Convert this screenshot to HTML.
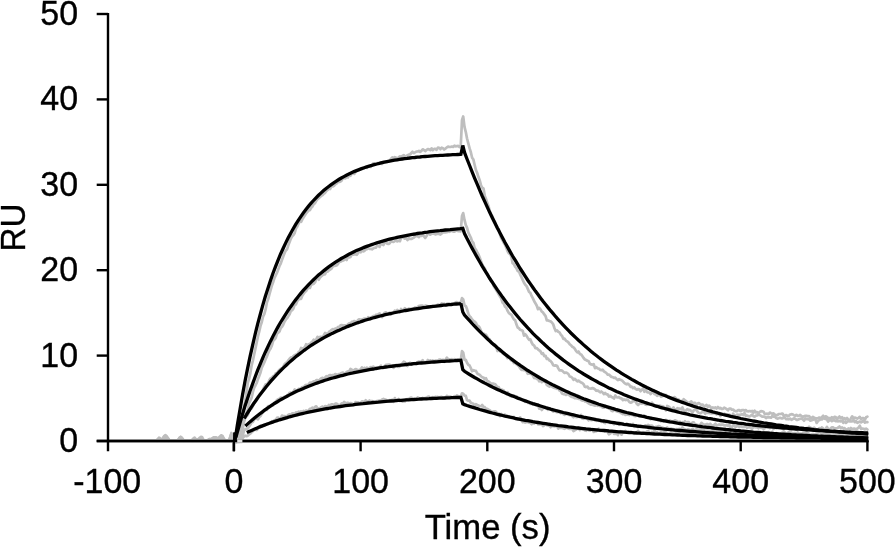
<!DOCTYPE html><html><head><meta charset="utf-8"><title>Sensorgram</title><style>html,body{margin:0;padding:0;background:#fff;overflow:hidden}svg{display:block}</style></head><body><svg width="895" height="547" viewBox="0 0 895 547">
<rect width="895" height="547" fill="#fff"/>
<g stroke="#000" stroke-width="2.4" fill="none">
<path d="M108,12.9 V451.3"/>
<path d="M96.7,441.0 H868.5"/>
<path d="M96.7,355.6 H108"/>
<path d="M96.7,270.2 H108"/>
<path d="M96.7,184.8 H108"/>
<path d="M96.7,99.4 H108"/>
<path d="M96.7,14.0 H108"/>
<path d="M233.9,441.0 V451.3"/>
<path d="M360.6,441.0 V451.3"/>
<path d="M487.3,441.0 V451.3"/>
<path d="M614.0,441.0 V451.3"/>
<path d="M740.7,441.0 V451.3"/>
<path d="M867.4,441.0 V451.3"/>
</g>
<g fill="none" stroke="#bebebe" stroke-width="2.7" stroke-linejoin="round" stroke-linecap="round">
<path d="M156.6,441.0 L157.9,440.1 L159.1,437.6 L160.4,438.8 L161.7,440.3 L162.9,438.0 L164.2,436.1 L165.5,435.1 L166.7,436.3 L168.0,438.2 L169.3,440.9 L170.6,440.9 L171.8,441.0 L173.1,441.0 L174.4,441.0 L175.6,441.0 L176.9,440.6 L178.2,440.0 L179.4,438.1 L180.7,437.0 L182.0,438.5 L183.2,439.6 L184.5,441.0 L185.8,441.0 L187.0,441.0 L188.3,441.0 L189.6,441.0 L190.8,441.0 L192.1,440.0 L193.4,438.5 L194.6,437.6 L195.9,439.6 L197.2,439.5 L198.4,439.1 L199.7,437.7 L201.0,437.2 L202.2,437.2 L203.5,440.2 L204.8,440.7 L206.0,440.4 L207.3,441.0 L208.6,439.3 L209.8,439.0 L211.1,438.7 L212.4,438.3 L213.6,437.3 L214.9,437.9 L216.2,437.7 L217.4,438.1 L218.7,437.7 L220.0,436.4 L221.2,435.3 L222.5,435.9 L223.8,438.6 L225.0,440.6 L226.3,441.0 L227.6,441.0 L228.8,441.0 L230.1,437.7 L231.4,433.0 L232.6,441.0 L233.9,441.6 L235.2,441.7 L236.4,442.0 L237.7,440.4 L239.0,433.9 L240.2,429.4 L241.5,422.6 L242.8,415.1 L244.0,406.8 L245.3,400.6 L246.6,391.3 L247.8,382.8 L249.1,378.9 L250.4,372.9 L251.6,365.5 L252.9,360.5 L254.2,354.3 L255.4,348.6 L256.7,342.5 L258.0,336.2 L259.2,331.7 L260.5,325.9 L261.8,322.0 L263.0,316.7 L264.3,314.2 L265.6,309.4 L266.8,302.9 L268.1,299.4 L269.4,294.4 L270.6,290.2 L271.9,285.5 L273.2,282.0 L274.4,278.1 L275.7,275.5 L277.0,272.7 L278.2,269.5 L279.5,266.0 L280.8,263.3 L282.0,259.8 L283.3,256.2 L284.6,252.9 L285.8,250.5 L287.1,249.2 L288.4,245.1 L289.6,242.0 L290.9,238.5 L292.2,236.3 L293.4,235.1 L294.7,233.0 L296.0,228.4 L297.2,226.8 L298.5,223.8 L299.8,221.3 L301.1,221.8 L302.3,219.3 L303.6,217.2 L304.9,215.2 L306.1,213.4 L307.4,211.9 L308.7,210.3 L309.9,210.2 L311.2,207.7 L312.5,206.5 L313.7,204.2 L315.0,203.2 L316.3,200.8 L317.5,199.1 L318.8,198.1 L320.1,196.9 L321.3,195.8 L322.6,195.1 L323.9,193.7 L325.1,192.8 L326.4,190.9 L327.7,190.0 L328.9,188.5 L330.2,189.0 L331.5,186.4 L332.7,186.5 L334.0,185.8 L335.3,184.4 L336.5,183.7 L337.8,182.1 L339.1,181.9 L340.3,181.6 L341.6,180.7 L342.9,178.0 L344.1,177.9 L345.4,178.4 L346.7,176.9 L347.9,177.4 L349.2,174.0 L350.5,175.7 L351.7,173.8 L353.0,172.8 L354.3,173.9 L355.5,172.1 L356.8,170.6 L358.1,170.3 L359.3,170.0 L360.6,168.9 L361.9,168.9 L363.1,168.4 L364.4,168.3 L365.7,167.1 L366.9,167.9 L368.2,166.2 L369.5,166.6 L370.7,166.8 L372.0,165.2 L373.3,163.3 L374.5,163.3 L375.8,164.2 L377.1,163.0 L378.3,163.4 L379.6,162.9 L380.9,162.3 L382.1,164.0 L383.4,161.8 L384.7,162.1 L385.9,161.6 L387.2,161.9 L388.5,161.7 L389.7,160.8 L391.0,158.8 L392.3,157.3 L393.5,158.2 L394.8,157.1 L396.1,157.8 L397.3,159.2 L398.6,157.3 L399.9,156.4 L401.1,156.7 L402.4,155.9 L403.7,155.2 L404.9,156.1 L406.2,156.5 L407.5,155.2 L408.7,154.7 L410.0,154.5 L411.3,153.0 L412.5,151.8 L413.8,153.2 L415.1,152.3 L416.3,151.6 L417.6,151.5 L418.9,150.9 L420.1,151.9 L421.4,150.9 L422.7,149.3 L423.9,149.9 L425.2,151.1 L426.5,150.0 L427.8,149.0 L429.0,149.4 L430.3,150.2 L431.6,148.3 L432.8,150.2 L434.1,148.9 L435.4,148.9 L436.6,149.8 L437.9,147.7 L439.2,147.9 L440.4,149.2 L441.7,147.7 L443.0,148.2 L444.2,149.5 L445.5,148.6 L446.8,147.4 L448.0,146.7 L449.3,146.9 L450.6,147.0 L451.8,146.5 L453.1,146.9 L454.4,145.7 L455.6,146.3 L456.9,146.2 L458.2,145.8 L459.4,147.1 L460.7,147.0 L462.0,120.1 L463.2,116.5 L464.5,126.9 L465.8,132.1 L467.0,138.3 L468.3,143.3 L469.6,148.4 L470.8,152.0 L472.1,157.7 L473.4,159.6 L474.6,164.8 L475.9,170.0 L477.2,173.0 L478.4,176.8 L479.7,180.3 L481.0,185.2 L482.2,187.8 L483.5,188.5 L484.8,196.0 L486.0,199.0 L487.3,203.1 L488.6,206.2 L489.8,211.3 L491.1,214.4 L492.4,216.3 L493.6,219.7 L494.9,221.6 L496.2,226.3 L497.4,228.7 L498.7,229.0 L500.0,234.6 L501.2,238.1 L502.5,240.2 L503.8,242.8 L505.0,244.7 L506.3,247.8 L507.6,251.3 L508.8,253.3 L510.1,253.5 L511.4,256.9 L512.6,263.2 L513.9,264.1 L515.2,266.9 L516.4,268.1 L517.7,271.0 L519.0,271.6 L520.2,274.6 L521.5,277.1 L522.8,280.1 L524.0,282.7 L525.3,284.8 L526.6,286.1 L527.8,288.9 L529.1,292.0 L530.4,292.9 L531.6,295.9 L532.9,298.4 L534.2,301.3 L535.4,303.3 L536.7,305.5 L538.0,309.2 L539.2,307.9 L540.5,309.4 L541.8,311.7 L543.0,312.4 L544.3,314.4 L545.6,316.1 L546.8,320.3 L548.1,320.4 L549.4,321.0 L550.6,321.4 L551.9,322.5 L553.2,324.3 L554.5,328.2 L555.7,331.1 L557.0,330.3 L558.3,331.8 L559.5,332.4 L560.8,334.7 L562.1,335.9 L563.3,338.8 L564.6,338.7 L565.9,340.6 L567.1,341.3 L568.4,342.4 L569.7,344.2 L570.9,345.2 L572.2,346.7 L573.5,347.4 L574.7,348.7 L576.0,350.9 L577.3,352.3 L578.5,351.5 L579.8,353.9 L581.1,354.4 L582.3,356.0 L583.6,358.0 L584.9,359.5 L586.1,360.0 L587.4,360.8 L588.7,361.3 L589.9,363.8 L591.2,364.4 L592.5,364.8 L593.7,364.1 L595.0,368.1 L596.3,367.1 L597.5,368.4 L598.8,368.5 L600.1,369.9 L601.3,370.1 L602.6,369.7 L603.9,371.3 L605.1,372.1 L606.4,373.0 L607.7,374.7 L608.9,374.5 L610.2,375.7 L611.5,377.0 L612.7,377.1 L614.0,377.9 L615.3,377.7 L616.5,378.9 L617.8,380.1 L619.1,379.1 L620.3,379.8 L621.6,380.2 L622.9,381.3 L624.1,382.7 L625.4,383.7 L626.7,384.3 L627.9,383.7 L629.2,384.8 L630.5,386.9 L631.7,386.5 L633.0,388.1 L634.3,387.4 L635.5,388.9 L636.8,389.7 L638.1,389.0 L639.3,389.4 L640.6,391.2 L641.9,389.7 L643.1,388.5 L644.4,391.8 L645.7,389.8 L646.9,391.9 L648.2,392.5 L649.5,392.6 L650.7,394.0 L652.0,392.1 L653.3,392.7 L654.5,394.2 L655.8,394.4 L657.1,395.8 L658.3,395.2 L659.6,394.2 L660.9,396.6 L662.1,396.2 L663.4,395.8 L664.7,395.1 L665.9,394.9 L667.2,396.7 L668.5,397.7 L669.7,397.1 L671.0,398.0 L672.3,398.4 L673.5,397.5 L674.8,397.1 L676.1,398.6 L677.4,399.5 L678.6,399.3 L679.9,401.7 L681.2,400.8 L682.4,401.8 L683.7,399.2 L685.0,400.4 L686.2,401.4 L687.5,402.1 L688.8,404.6 L690.0,402.4 L691.3,401.4 L692.6,403.5 L693.8,402.9 L695.1,402.9 L696.4,405.2 L697.6,403.6 L698.9,403.1 L700.2,404.2 L701.4,404.9 L702.7,404.5 L704.0,406.7 L705.2,405.8 L706.5,405.0 L707.8,407.0 L709.0,405.6 L710.3,406.8 L711.6,408.7 L712.8,407.4 L714.1,408.1 L715.4,407.3 L716.6,408.6 L717.9,407.0 L719.2,408.4 L720.4,407.9 L721.7,408.8 L723.0,408.9 L724.2,407.6 L725.5,408.4 L726.8,409.2 L728.0,410.3 L729.3,408.5 L730.6,408.6 L731.8,409.7 L733.1,409.6 L734.4,410.8 L735.6,411.1 L736.9,411.1 L738.2,410.2 L739.4,410.1 L740.7,411.2 L742.0,410.1 L743.2,410.0 L744.5,410.6 L745.8,410.1 L747.0,411.2 L748.3,411.4 L749.6,411.0 L750.8,411.4 L752.1,410.9 L753.4,412.7 L754.6,410.7 L755.9,412.4 L757.2,412.2 L758.4,413.3 L759.7,411.9 L761.0,411.2 L762.2,411.3 L763.5,411.7 L764.8,414.0 L766.0,413.9 L767.3,413.7 L768.6,414.2 L769.8,412.6 L771.1,413.2 L772.4,413.6 L773.6,413.3 L774.9,414.7 L776.2,415.0 L777.4,415.1 L778.7,414.0 L780.0,414.0 L781.2,413.9 L782.5,413.5 L783.8,415.7 L785.0,415.6 L786.3,415.0 L787.6,416.3 L788.8,415.9 L790.1,414.5 L791.4,414.2 L792.6,414.3 L793.9,415.3 L795.2,415.8 L796.4,414.8 L797.7,416.0 L799.0,415.7 L800.2,414.8 L801.5,416.2 L802.8,416.8 L804.0,416.4 L805.3,415.8 L806.6,415.9 L807.9,416.3 L809.1,416.0 L810.4,418.0 L811.7,417.8 L812.9,416.9 L814.2,417.7 L815.5,418.3 L816.7,418.4 L818.0,418.2 L819.3,417.5 L820.5,418.2 L821.8,417.2 L823.1,415.8 L824.3,417.2 L825.6,416.3 L826.9,417.0 L828.1,418.4 L829.4,418.0 L830.7,418.6 L831.9,417.2 L833.2,418.7 L834.5,416.8 L835.7,417.1 L837.0,419.5 L838.3,417.5 L839.5,416.5 L840.8,418.4 L842.1,417.2 L843.3,419.5 L844.6,418.2 L845.9,419.6 L847.1,418.0 L848.4,419.8 L849.7,420.9 L850.9,418.5 L852.2,416.3 L853.5,418.5 L854.7,417.6 L856.0,418.1 L857.3,418.6 L858.5,417.9 L859.8,416.9 L861.1,419.3 L862.3,418.2 L863.6,418.1 L864.9,419.7 L866.1,417.3 L867.4,416.6"/>
<path d="M156.6,441.0 L157.9,439.1 L159.1,438.4 L160.4,439.7 L161.7,439.8 L162.9,439.6 L164.2,438.3 L165.5,437.2 L166.7,437.9 L168.0,439.3 L169.3,441.0 L170.6,441.0 L171.8,441.0 L173.1,441.0 L174.4,441.0 L175.6,441.0 L176.9,441.0 L178.2,440.9 L179.4,438.5 L180.7,438.9 L182.0,439.3 L183.2,440.4 L184.5,440.6 L185.8,441.0 L187.0,441.0 L188.3,441.0 L189.6,441.0 L190.8,440.9 L192.1,440.8 L193.4,439.5 L194.6,439.2 L195.9,439.4 L197.2,440.3 L198.4,440.6 L199.7,439.5 L201.0,438.8 L202.2,438.5 L203.5,440.6 L204.8,441.0 L206.0,440.6 L207.3,441.0 L208.6,441.0 L209.8,440.7 L211.1,440.2 L212.4,438.7 L213.6,438.5 L214.9,437.3 L216.2,438.0 L217.4,440.0 L218.7,440.2 L220.0,437.3 L221.2,436.3 L222.5,437.7 L223.8,438.7 L225.0,441.0 L226.3,440.8 L227.6,440.7 L228.8,441.0 L230.1,439.4 L231.4,435.3 L232.6,441.0 L233.9,440.3 L235.2,442.0 L236.4,442.0 L237.7,441.4 L239.0,439.7 L240.2,437.3 L241.5,432.8 L242.8,428.7 L244.0,421.6 L245.3,417.2 L246.6,412.0 L247.8,409.5 L249.1,403.1 L250.4,400.6 L251.6,397.7 L252.9,391.9 L254.2,387.6 L255.4,385.5 L256.7,383.0 L258.0,378.9 L259.2,376.1 L260.5,372.5 L261.8,367.6 L263.0,365.2 L264.3,362.4 L265.6,359.3 L266.8,356.7 L268.1,353.1 L269.4,350.1 L270.6,348.4 L271.9,345.5 L273.2,340.8 L274.4,339.6 L275.7,337.9 L277.0,333.6 L278.2,332.6 L279.5,331.5 L280.8,327.9 L282.0,326.8 L283.3,324.5 L284.6,321.5 L285.8,319.7 L287.1,318.2 L288.4,316.1 L289.6,314.2 L290.9,310.7 L292.2,310.2 L293.4,308.5 L294.7,304.3 L296.0,304.4 L297.2,301.2 L298.5,299.4 L299.8,299.0 L301.1,298.8 L302.3,295.8 L303.6,293.8 L304.9,291.9 L306.1,291.2 L307.4,288.9 L308.7,287.1 L309.9,287.9 L311.2,284.7 L312.5,284.2 L313.7,283.7 L315.0,282.4 L316.3,279.1 L317.5,278.3 L318.8,279.7 L320.1,277.4 L321.3,276.3 L322.6,275.2 L323.9,274.4 L325.1,274.3 L326.4,271.3 L327.7,271.6 L328.9,270.3 L330.2,269.5 L331.5,268.7 L332.7,266.5 L334.0,265.7 L335.3,265.8 L336.5,265.4 L337.8,264.2 L339.1,262.1 L340.3,261.8 L341.6,261.0 L342.9,260.7 L344.1,260.0 L345.4,258.9 L346.7,260.0 L347.9,256.5 L349.2,257.5 L350.5,257.0 L351.7,254.6 L353.0,254.7 L354.3,254.4 L355.5,254.4 L356.8,254.8 L358.1,252.9 L359.3,251.2 L360.6,252.3 L361.9,250.1 L363.1,251.4 L364.4,251.0 L365.7,249.4 L366.9,249.1 L368.2,248.1 L369.5,248.8 L370.7,248.9 L372.0,249.3 L373.3,248.4 L374.5,247.8 L375.8,247.7 L377.1,245.8 L378.3,246.0 L379.6,246.9 L380.9,242.8 L382.1,244.6 L383.4,245.1 L384.7,242.7 L385.9,242.0 L387.2,243.6 L388.5,244.0 L389.7,243.4 L391.0,241.1 L392.3,241.7 L393.5,242.0 L394.8,241.1 L396.1,239.6 L397.3,241.4 L398.6,240.7 L399.9,241.2 L401.1,237.9 L402.4,237.3 L403.7,237.8 L404.9,238.7 L406.2,237.9 L407.5,240.1 L408.7,238.2 L410.0,239.0 L411.3,239.0 L412.5,238.3 L413.8,237.6 L415.1,236.5 L416.3,236.0 L417.6,236.1 L418.9,237.1 L420.1,235.7 L421.4,235.9 L422.7,234.7 L423.9,236.2 L425.2,238.0 L426.5,236.1 L427.8,233.3 L429.0,234.1 L430.3,234.7 L431.6,233.7 L432.8,233.7 L434.1,233.7 L435.4,234.4 L436.6,233.9 L437.9,233.6 L439.2,234.1 L440.4,234.6 L441.7,233.4 L443.0,232.3 L444.2,232.3 L445.5,232.3 L446.8,232.2 L448.0,230.2 L449.3,231.8 L450.6,231.3 L451.8,230.3 L453.1,231.7 L454.4,231.7 L455.6,231.0 L456.9,230.1 L458.2,231.1 L459.4,231.2 L460.7,231.4 L462.0,216.0 L463.2,213.1 L464.5,219.9 L465.8,225.1 L467.0,227.6 L468.3,232.4 L469.6,235.2 L470.8,237.5 L472.1,241.4 L473.4,242.9 L474.6,247.9 L475.9,249.7 L477.2,252.2 L478.4,254.3 L479.7,257.5 L481.0,261.1 L482.2,264.3 L483.5,266.9 L484.8,268.3 L486.0,272.1 L487.3,273.7 L488.6,276.5 L489.8,278.6 L491.1,281.4 L492.4,281.7 L493.6,286.1 L494.9,288.0 L496.2,290.1 L497.4,292.1 L498.7,294.3 L500.0,296.6 L501.2,298.3 L502.5,302.6 L503.8,303.8 L505.0,306.8 L506.3,307.8 L507.6,310.9 L508.8,312.9 L510.1,314.1 L511.4,314.7 L512.6,317.1 L513.9,319.4 L515.2,320.4 L516.4,324.3 L517.7,327.6 L519.0,328.3 L520.2,329.8 L521.5,330.2 L522.8,330.9 L524.0,335.6 L525.3,334.2 L526.6,335.9 L527.8,337.9 L529.1,339.8 L530.4,339.4 L531.6,342.5 L532.9,344.7 L534.2,345.6 L535.4,348.1 L536.7,348.0 L538.0,349.4 L539.2,350.3 L540.5,351.4 L541.8,353.9 L543.0,353.2 L544.3,356.1 L545.6,355.8 L546.8,358.9 L548.1,358.7 L549.4,360.6 L550.6,361.1 L551.9,362.6 L553.2,365.2 L554.5,365.6 L555.7,365.4 L557.0,365.7 L558.3,368.4 L559.5,370.4 L560.8,370.4 L562.1,370.6 L563.3,371.8 L564.6,373.0 L565.9,372.5 L567.1,373.0 L568.4,374.0 L569.7,376.5 L570.9,376.8 L572.2,377.8 L573.5,379.8 L574.7,378.8 L576.0,380.0 L577.3,381.4 L578.5,380.6 L579.8,381.7 L581.1,382.5 L582.3,383.0 L583.6,384.2 L584.9,386.8 L586.1,387.1 L587.4,386.6 L588.7,388.4 L589.9,388.5 L591.2,388.6 L592.5,388.1 L593.7,388.5 L595.0,389.3 L596.3,390.8 L597.5,390.5 L598.8,391.2 L600.1,392.3 L601.3,391.5 L602.6,392.5 L603.9,394.1 L605.1,393.0 L606.4,394.4 L607.7,394.3 L608.9,396.5 L610.2,395.9 L611.5,396.9 L612.7,397.4 L614.0,398.6 L615.3,395.5 L616.5,397.2 L617.8,397.5 L619.1,397.1 L620.3,398.3 L621.6,398.3 L622.9,400.2 L624.1,399.4 L625.4,400.1 L626.7,399.6 L627.9,400.0 L629.2,401.8 L630.5,402.7 L631.7,402.4 L633.0,401.0 L634.3,401.2 L635.5,401.4 L636.8,403.8 L638.1,405.1 L639.3,403.7 L640.6,403.3 L641.9,403.6 L643.1,403.0 L644.4,403.5 L645.7,404.7 L646.9,404.8 L648.2,404.1 L649.5,404.1 L650.7,404.4 L652.0,402.6 L653.3,404.7 L654.5,405.0 L655.8,406.2 L657.1,406.1 L658.3,405.5 L659.6,405.5 L660.9,406.3 L662.1,406.2 L663.4,406.6 L664.7,408.6 L665.9,410.4 L667.2,406.0 L668.5,406.5 L669.7,407.6 L671.0,409.5 L672.3,409.6 L673.5,407.4 L674.8,410.8 L676.1,409.4 L677.4,408.2 L678.6,408.8 L679.9,408.5 L681.2,409.4 L682.4,407.5 L683.7,410.4 L685.0,411.4 L686.2,410.3 L687.5,409.1 L688.8,410.4 L690.0,409.8 L691.3,411.2 L692.6,412.2 L693.8,410.3 L695.1,409.8 L696.4,409.9 L697.6,411.8 L698.9,413.0 L700.2,413.3 L701.4,412.7 L702.7,411.9 L704.0,412.0 L705.2,413.8 L706.5,412.8 L707.8,412.9 L709.0,412.9 L710.3,413.2 L711.6,413.5 L712.8,412.9 L714.1,413.3 L715.4,413.4 L716.6,414.3 L717.9,413.6 L719.2,414.0 L720.4,416.0 L721.7,414.1 L723.0,414.5 L724.2,413.6 L725.5,414.4 L726.8,414.6 L728.0,414.5 L729.3,414.7 L730.6,415.2 L731.8,416.6 L733.1,413.7 L734.4,416.2 L735.6,415.7 L736.9,414.7 L738.2,414.8 L739.4,414.8 L740.7,414.6 L742.0,414.2 L743.2,415.0 L744.5,412.9 L745.8,416.0 L747.0,415.6 L748.3,416.1 L749.6,416.4 L750.8,415.7 L752.1,414.6 L753.4,416.3 L754.6,416.7 L755.9,415.6 L757.2,415.5 L758.4,414.3 L759.7,415.0 L761.0,415.9 L762.2,416.7 L763.5,416.5 L764.8,416.9 L766.0,418.1 L767.3,417.2 L768.6,417.3 L769.8,417.4 L771.1,417.7 L772.4,415.9 L773.6,416.6 L774.9,416.5 L776.2,418.0 L777.4,418.7 L778.7,418.3 L780.0,417.8 L781.2,418.3 L782.5,418.4 L783.8,417.4 L785.0,417.9 L786.3,419.2 L787.6,419.0 L788.8,419.3 L790.1,418.6 L791.4,419.8 L792.6,419.2 L793.9,418.3 L795.2,418.8 L796.4,419.8 L797.7,419.8 L799.0,419.2 L800.2,418.8 L801.5,418.5 L802.8,419.4 L804.0,420.7 L805.3,418.5 L806.6,419.1 L807.9,419.2 L809.1,419.4 L810.4,420.7 L811.7,420.3 L812.9,419.8 L814.2,419.0 L815.5,419.8 L816.7,422.9 L818.0,420.9 L819.3,420.1 L820.5,419.1 L821.8,419.5 L823.1,418.0 L824.3,418.7 L825.6,418.9 L826.9,419.4 L828.1,421.6 L829.4,420.1 L830.7,420.1 L831.9,421.1 L833.2,420.3 L834.5,420.4 L835.7,421.2 L837.0,421.1 L838.3,421.3 L839.5,420.9 L840.8,421.4 L842.1,420.7 L843.3,422.8 L844.6,421.8 L845.9,422.9 L847.1,422.0 L848.4,421.0 L849.7,421.3 L850.9,421.5 L852.2,421.4 L853.5,420.0 L854.7,422.2 L856.0,420.9 L857.3,422.8 L858.5,422.2 L859.8,421.6 L861.1,422.4 L862.3,421.6 L863.6,421.0 L864.9,422.7 L866.1,422.0 L867.4,422.2"/>
<path d="M156.6,441.0 L157.9,439.7 L159.1,438.4 L160.4,438.8 L161.7,440.7 L162.9,438.7 L164.2,438.1 L165.5,436.3 L166.7,437.6 L168.0,439.2 L169.3,440.3 L170.6,440.8 L171.8,440.7 L173.1,440.6 L174.4,441.0 L175.6,441.0 L176.9,441.0 L178.2,440.2 L179.4,437.8 L180.7,437.0 L182.0,438.1 L183.2,440.0 L184.5,441.0 L185.8,441.0 L187.0,441.0 L188.3,441.0 L189.6,441.0 L190.8,441.0 L192.1,441.0 L193.4,440.6 L194.6,440.2 L195.9,440.7 L197.2,441.0 L198.4,440.2 L199.7,439.3 L201.0,437.0 L202.2,438.9 L203.5,440.5 L204.8,441.0 L206.0,441.0 L207.3,441.0 L208.6,440.1 L209.8,439.3 L211.1,440.3 L212.4,440.0 L213.6,440.1 L214.9,439.1 L216.2,438.9 L217.4,439.4 L218.7,439.2 L220.0,438.3 L221.2,436.4 L222.5,437.6 L223.8,439.2 L225.0,440.4 L226.3,441.0 L227.6,441.0 L228.8,441.0 L230.1,440.0 L231.4,437.6 L232.6,441.0 L233.9,440.4 L235.2,442.0 L236.4,442.0 L237.7,438.0 L239.0,433.9 L240.2,430.8 L241.5,429.3 L242.8,425.2 L244.0,420.7 L245.3,417.8 L246.6,416.2 L247.8,415.0 L249.1,411.4 L250.4,409.0 L251.6,408.5 L252.9,405.8 L254.2,403.1 L255.4,401.2 L256.7,398.7 L258.0,396.4 L259.2,394.7 L260.5,393.4 L261.8,392.8 L263.0,389.5 L264.3,386.8 L265.6,384.4 L266.8,384.3 L268.1,383.0 L269.4,380.1 L270.6,378.3 L271.9,377.7 L273.2,376.0 L274.4,375.8 L275.7,373.4 L277.0,373.1 L278.2,371.2 L279.5,369.8 L280.8,368.7 L282.0,368.9 L283.3,366.7 L284.6,364.2 L285.8,363.1 L287.1,362.2 L288.4,360.3 L289.6,358.7 L290.9,357.4 L292.2,357.7 L293.4,356.1 L294.7,355.2 L296.0,354.6 L297.2,354.2 L298.5,352.1 L299.8,351.5 L301.1,347.9 L302.3,348.4 L303.6,347.9 L304.9,347.2 L306.1,344.2 L307.4,345.5 L308.7,344.3 L309.9,343.9 L311.2,342.6 L312.5,341.5 L313.7,339.7 L315.0,340.9 L316.3,339.3 L317.5,336.8 L318.8,337.7 L320.1,336.9 L321.3,336.8 L322.6,337.8 L323.9,335.2 L325.1,333.0 L326.4,333.5 L327.7,334.3 L328.9,332.0 L330.2,331.2 L331.5,329.8 L332.7,329.1 L334.0,329.5 L335.3,328.5 L336.5,329.8 L337.8,327.1 L339.1,326.9 L340.3,325.6 L341.6,325.0 L342.9,325.7 L344.1,325.3 L345.4,325.4 L346.7,326.2 L347.9,324.2 L349.2,323.2 L350.5,323.7 L351.7,321.9 L353.0,321.7 L354.3,321.0 L355.5,321.7 L356.8,322.4 L358.1,319.9 L359.3,319.3 L360.6,319.5 L361.9,319.5 L363.1,319.1 L364.4,318.6 L365.7,318.6 L366.9,319.7 L368.2,317.1 L369.5,318.4 L370.7,317.4 L372.0,316.9 L373.3,316.0 L374.5,317.3 L375.8,314.8 L377.1,314.6 L378.3,314.2 L379.6,313.5 L380.9,315.0 L382.1,317.2 L383.4,314.3 L384.7,312.7 L385.9,312.3 L387.2,313.6 L388.5,313.2 L389.7,312.7 L391.0,314.3 L392.3,313.4 L393.5,312.9 L394.8,310.6 L396.1,312.0 L397.3,310.0 L398.6,310.8 L399.9,312.3 L401.1,308.9 L402.4,310.9 L403.7,309.7 L404.9,308.2 L406.2,309.8 L407.5,310.5 L408.7,308.5 L410.0,308.8 L411.3,309.8 L412.5,309.7 L413.8,308.9 L415.1,307.4 L416.3,308.0 L417.6,307.1 L418.9,305.9 L420.1,305.9 L421.4,305.5 L422.7,305.5 L423.9,307.9 L425.2,305.7 L426.5,305.9 L427.8,306.3 L429.0,307.0 L430.3,307.5 L431.6,307.1 L432.8,305.9 L434.1,306.5 L435.4,306.2 L436.6,305.9 L437.9,304.5 L439.2,305.0 L440.4,304.8 L441.7,303.4 L443.0,304.5 L444.2,303.7 L445.5,305.0 L446.8,303.9 L448.0,303.7 L449.3,303.6 L450.6,304.0 L451.8,304.5 L453.1,303.9 L454.4,303.8 L455.6,302.3 L456.9,302.1 L458.2,303.8 L459.4,302.4 L460.7,303.1 L462.0,298.1 L463.2,299.4 L464.5,305.3 L465.8,306.1 L467.0,309.1 L468.3,313.5 L469.6,316.3 L470.8,317.3 L472.1,319.6 L473.4,320.8 L474.6,321.7 L475.9,322.7 L477.2,325.8 L478.4,326.1 L479.7,327.7 L481.0,330.7 L482.2,333.7 L483.5,333.3 L484.8,334.7 L486.0,334.6 L487.3,336.7 L488.6,338.9 L489.8,339.5 L491.1,343.0 L492.4,343.6 L493.6,345.1 L494.9,344.6 L496.2,346.5 L497.4,351.0 L498.7,348.9 L500.0,351.4 L501.2,351.3 L502.5,353.3 L503.8,354.0 L505.0,354.7 L506.3,356.1 L507.6,358.2 L508.8,357.4 L510.1,359.0 L511.4,360.5 L512.6,361.0 L513.9,363.0 L515.2,362.1 L516.4,364.2 L517.7,365.2 L519.0,366.3 L520.2,368.4 L521.5,369.8 L522.8,369.6 L524.0,370.2 L525.3,370.1 L526.6,371.5 L527.8,373.8 L529.1,373.5 L530.4,373.8 L531.6,374.3 L532.9,375.7 L534.2,378.0 L535.4,376.9 L536.7,379.0 L538.0,378.8 L539.2,381.3 L540.5,380.3 L541.8,382.1 L543.0,381.3 L544.3,381.1 L545.6,382.2 L546.8,385.0 L548.1,385.9 L549.4,386.6 L550.6,385.9 L551.9,386.6 L553.2,387.4 L554.5,387.9 L555.7,388.3 L557.0,388.8 L558.3,388.5 L559.5,390.5 L560.8,391.1 L562.1,393.6 L563.3,394.1 L564.6,394.1 L565.9,395.0 L567.1,394.4 L568.4,394.0 L569.7,395.6 L570.9,396.5 L572.2,397.1 L573.5,397.1 L574.7,398.1 L576.0,397.9 L577.3,398.4 L578.5,398.8 L579.8,399.0 L581.1,400.0 L582.3,400.6 L583.6,399.6 L584.9,401.4 L586.1,401.4 L587.4,402.5 L588.7,403.5 L589.9,404.0 L591.2,404.7 L592.5,404.5 L593.7,405.3 L595.0,405.6 L596.3,404.5 L597.5,405.8 L598.8,405.2 L600.1,406.2 L601.3,406.1 L602.6,407.7 L603.9,407.7 L605.1,405.7 L606.4,407.2 L607.7,407.6 L608.9,408.7 L610.2,408.6 L611.5,410.7 L612.7,411.1 L614.0,410.2 L615.3,410.0 L616.5,411.3 L617.8,411.6 L619.1,412.1 L620.3,412.2 L621.6,413.4 L622.9,414.1 L624.1,413.2 L625.4,414.8 L626.7,414.6 L627.9,414.6 L629.2,415.1 L630.5,414.3 L631.7,414.9 L633.0,415.0 L634.3,416.0 L635.5,416.2 L636.8,415.3 L638.1,415.4 L639.3,416.4 L640.6,416.1 L641.9,416.3 L643.1,416.6 L644.4,415.6 L645.7,417.3 L646.9,417.1 L648.2,417.2 L649.5,418.0 L650.7,419.2 L652.0,417.9 L653.3,418.2 L654.5,418.6 L655.8,418.9 L657.1,419.1 L658.3,420.1 L659.6,419.4 L660.9,421.3 L662.1,420.2 L663.4,421.5 L664.7,420.8 L665.9,419.9 L667.2,420.7 L668.5,421.2 L669.7,420.5 L671.0,421.2 L672.3,421.6 L673.5,421.8 L674.8,420.3 L676.1,420.8 L677.4,421.2 L678.6,422.9 L679.9,421.8 L681.2,423.4 L682.4,422.2 L683.7,423.5 L685.0,421.1 L686.2,424.0 L687.5,422.1 L688.8,422.2 L690.0,424.6 L691.3,423.8 L692.6,422.3 L693.8,422.3 L695.1,424.9 L696.4,424.5 L697.6,425.1 L698.9,425.2 L700.2,425.0 L701.4,422.8 L702.7,423.9 L704.0,424.6 L705.2,424.9 L706.5,424.1 L707.8,424.0 L709.0,425.5 L710.3,423.8 L711.6,425.8 L712.8,425.5 L714.1,424.9 L715.4,423.7 L716.6,425.4 L717.9,425.2 L719.2,424.4 L720.4,424.9 L721.7,424.6 L723.0,424.7 L724.2,425.4 L725.5,425.3 L726.8,425.1 L728.0,425.9 L729.3,424.7 L730.6,427.7 L731.8,427.4 L733.1,425.3 L734.4,425.8 L735.6,427.0 L736.9,426.3 L738.2,425.6 L739.4,427.0 L740.7,426.1 L742.0,426.8 L743.2,427.0 L744.5,427.0 L745.8,426.0 L747.0,427.8 L748.3,427.5 L749.6,426.6 L750.8,428.1 L752.1,428.8 L753.4,427.1 L754.6,427.2 L755.9,427.4 L757.2,427.3 L758.4,428.3 L759.7,425.0 L761.0,427.9 L762.2,428.0 L763.5,428.9 L764.8,428.3 L766.0,426.4 L767.3,427.4 L768.6,427.1 L769.8,428.1 L771.1,426.2 L772.4,427.4 L773.6,428.9 L774.9,427.4 L776.2,428.1 L777.4,427.4 L778.7,427.7 L780.0,427.7 L781.2,427.8 L782.5,428.8 L783.8,429.6 L785.0,427.5 L786.3,428.1 L787.6,427.9 L788.8,428.5 L790.1,430.1 L791.4,429.7 L792.6,427.3 L793.9,428.7 L795.2,428.7 L796.4,429.7 L797.7,429.0 L799.0,428.8 L800.2,428.6 L801.5,428.4 L802.8,428.9 L804.0,429.0 L805.3,428.5 L806.6,428.1 L807.9,428.4 L809.1,426.8 L810.4,427.9 L811.7,428.1 L812.9,428.9 L814.2,427.6 L815.5,429.1 L816.7,430.0 L818.0,429.6 L819.3,428.1 L820.5,429.4 L821.8,427.5 L823.1,428.3 L824.3,429.8 L825.6,429.0 L826.9,427.0 L828.1,429.0 L829.4,429.8 L830.7,428.3 L831.9,427.3 L833.2,427.4 L834.5,428.6 L835.7,428.4 L837.0,428.3 L838.3,427.5 L839.5,426.5 L840.8,428.3 L842.1,427.4 L843.3,428.7 L844.6,428.1 L845.9,429.4 L847.1,429.5 L848.4,428.5 L849.7,429.4 L850.9,428.0 L852.2,429.0 L853.5,428.7 L854.7,428.7 L856.0,429.0 L857.3,428.6 L858.5,427.7 L859.8,425.7 L861.1,429.1 L862.3,428.5 L863.6,428.8 L864.9,429.5 L866.1,428.6 L867.4,429.5"/>
<path d="M156.6,441.0 L157.9,439.1 L159.1,438.9 L160.4,439.3 L161.7,439.9 L162.9,439.3 L164.2,436.7 L165.5,435.8 L166.7,437.1 L168.0,438.4 L169.3,441.0 L170.6,441.0 L171.8,441.0 L173.1,441.0 L174.4,441.0 L175.6,441.0 L176.9,440.9 L178.2,441.0 L179.4,440.2 L180.7,439.8 L182.0,439.3 L183.2,441.0 L184.5,440.8 L185.8,441.0 L187.0,441.0 L188.3,441.0 L189.6,441.0 L190.8,441.0 L192.1,441.0 L193.4,440.7 L194.6,439.0 L195.9,439.8 L197.2,440.9 L198.4,440.0 L199.7,439.8 L201.0,439.3 L202.2,440.1 L203.5,440.1 L204.8,440.3 L206.0,441.0 L207.3,440.9 L208.6,440.1 L209.8,439.2 L211.1,441.0 L212.4,439.9 L213.6,438.4 L214.9,438.2 L216.2,437.6 L217.4,438.7 L218.7,439.0 L220.0,438.6 L221.2,437.3 L222.5,438.3 L223.8,439.4 L225.0,440.8 L226.3,441.0 L227.6,441.0 L228.8,440.8 L230.1,439.2 L231.4,437.2 L232.6,441.0 L233.9,441.5 L235.2,442.0 L236.4,442.0 L237.7,442.0 L239.0,442.0 L240.2,440.1 L241.5,437.8 L242.8,435.5 L244.0,430.5 L245.3,429.3 L246.6,428.6 L247.8,428.6 L249.1,426.6 L250.4,424.5 L251.6,422.3 L252.9,421.9 L254.2,419.4 L255.4,418.8 L256.7,418.5 L258.0,419.3 L259.2,417.1 L260.5,416.0 L261.8,413.7 L263.0,411.9 L264.3,409.8 L265.6,409.8 L266.8,410.0 L268.1,406.1 L269.4,406.3 L270.6,406.1 L271.9,405.3 L273.2,405.4 L274.4,402.9 L275.7,401.9 L277.0,399.9 L278.2,399.3 L279.5,398.7 L280.8,397.5 L282.0,398.0 L283.3,397.7 L284.6,396.6 L285.8,396.8 L287.1,395.3 L288.4,394.6 L289.6,392.9 L290.9,392.7 L292.2,393.7 L293.4,391.7 L294.7,389.5 L296.0,391.4 L297.2,390.3 L298.5,388.9 L299.8,389.3 L301.1,388.2 L302.3,387.0 L303.6,387.5 L304.9,385.7 L306.1,384.8 L307.4,385.7 L308.7,384.2 L309.9,382.6 L311.2,383.0 L312.5,382.1 L313.7,381.3 L315.0,381.6 L316.3,380.1 L317.5,380.0 L318.8,380.9 L320.1,379.3 L321.3,378.3 L322.6,377.9 L323.9,378.7 L325.1,377.6 L326.4,376.2 L327.7,376.6 L328.9,375.6 L330.2,375.0 L331.5,375.7 L332.7,375.0 L334.0,375.4 L335.3,374.0 L336.5,374.5 L337.8,374.7 L339.1,374.0 L340.3,373.7 L341.6,373.0 L342.9,372.5 L344.1,373.7 L345.4,373.2 L346.7,372.0 L347.9,371.4 L349.2,371.4 L350.5,369.0 L351.7,369.6 L353.0,370.6 L354.3,369.9 L355.5,369.0 L356.8,369.6 L358.1,371.4 L359.3,369.9 L360.6,369.5 L361.9,367.4 L363.1,370.4 L364.4,367.8 L365.7,368.6 L366.9,367.7 L368.2,368.4 L369.5,368.0 L370.7,367.0 L372.0,367.5 L373.3,366.7 L374.5,367.4 L375.8,367.7 L377.1,367.5 L378.3,367.6 L379.6,367.1 L380.9,365.6 L382.1,367.5 L383.4,368.2 L384.7,366.8 L385.9,364.8 L387.2,364.9 L388.5,364.6 L389.7,364.5 L391.0,366.2 L392.3,365.7 L393.5,367.9 L394.8,366.4 L396.1,364.9 L397.3,366.4 L398.6,367.0 L399.9,366.3 L401.1,364.7 L402.4,363.4 L403.7,361.7 L404.9,362.3 L406.2,364.9 L407.5,366.0 L408.7,363.9 L410.0,362.6 L411.3,364.6 L412.5,363.9 L413.8,363.6 L415.1,363.0 L416.3,363.0 L417.6,362.2 L418.9,361.5 L420.1,362.1 L421.4,361.6 L422.7,360.2 L423.9,362.6 L425.2,363.0 L426.5,361.6 L427.8,360.0 L429.0,361.1 L430.3,360.4 L431.6,361.5 L432.8,360.5 L434.1,361.6 L435.4,360.6 L436.6,360.5 L437.9,360.5 L439.2,359.5 L440.4,359.5 L441.7,360.9 L443.0,359.8 L444.2,361.8 L445.5,359.7 L446.8,357.7 L448.0,359.2 L449.3,359.4 L450.6,359.8 L451.8,359.2 L453.1,360.1 L454.4,359.2 L455.6,359.8 L456.9,360.0 L458.2,359.5 L459.4,359.5 L460.7,361.0 L462.0,351.2 L463.2,352.6 L464.5,359.8 L465.8,359.9 L467.0,362.7 L468.3,364.8 L469.6,365.5 L470.8,368.0 L472.1,371.2 L473.4,370.2 L474.6,370.6 L475.9,370.9 L477.2,373.4 L478.4,374.3 L479.7,374.8 L481.0,376.2 L482.2,377.2 L483.5,377.6 L484.8,379.5 L486.0,378.3 L487.3,381.0 L488.6,381.4 L489.8,382.5 L491.1,383.7 L492.4,383.5 L493.6,383.7 L494.9,384.0 L496.2,385.5 L497.4,387.4 L498.7,387.2 L500.0,389.9 L501.2,389.7 L502.5,389.9 L503.8,390.5 L505.0,392.8 L506.3,394.1 L507.6,392.2 L508.8,394.2 L510.1,396.1 L511.4,396.6 L512.6,396.0 L513.9,395.3 L515.2,396.6 L516.4,396.3 L517.7,397.5 L519.0,398.0 L520.2,398.1 L521.5,399.7 L522.8,399.9 L524.0,400.9 L525.3,401.8 L526.6,401.2 L527.8,402.8 L529.1,402.7 L530.4,403.9 L531.6,403.9 L532.9,404.7 L534.2,403.8 L535.4,404.9 L536.7,405.5 L538.0,404.5 L539.2,408.7 L540.5,408.3 L541.8,410.0 L543.0,408.2 L544.3,407.7 L545.6,407.7 L546.8,408.4 L548.1,409.8 L549.4,408.1 L550.6,409.3 L551.9,410.3 L553.2,411.6 L554.5,410.8 L555.7,411.7 L557.0,412.1 L558.3,411.9 L559.5,412.1 L560.8,413.3 L562.1,412.0 L563.3,414.0 L564.6,414.8 L565.9,413.9 L567.1,414.1 L568.4,414.5 L569.7,415.2 L570.9,415.2 L572.2,416.0 L573.5,417.3 L574.7,415.7 L576.0,417.2 L577.3,417.0 L578.5,416.3 L579.8,417.0 L581.1,415.0 L582.3,418.5 L583.6,418.8 L584.9,418.3 L586.1,417.3 L587.4,418.8 L588.7,420.3 L589.9,418.5 L591.2,420.1 L592.5,420.0 L593.7,419.1 L595.0,420.5 L596.3,420.8 L597.5,420.1 L598.8,420.8 L600.1,420.6 L601.3,421.9 L602.6,421.5 L603.9,422.5 L605.1,423.2 L606.4,420.6 L607.7,421.3 L608.9,421.2 L610.2,423.0 L611.5,422.7 L612.7,422.9 L614.0,424.2 L615.3,422.8 L616.5,423.8 L617.8,423.6 L619.1,424.9 L620.3,423.1 L621.6,423.0 L622.9,423.5 L624.1,424.8 L625.4,424.9 L626.7,423.4 L627.9,424.6 L629.2,424.5 L630.5,424.7 L631.7,425.9 L633.0,423.9 L634.3,426.8 L635.5,425.5 L636.8,425.6 L638.1,427.1 L639.3,425.7 L640.6,425.4 L641.9,425.9 L643.1,426.8 L644.4,426.0 L645.7,425.3 L646.9,426.0 L648.2,424.9 L649.5,425.6 L650.7,425.9 L652.0,425.5 L653.3,427.3 L654.5,427.7 L655.8,426.9 L657.1,426.8 L658.3,426.0 L659.6,426.3 L660.9,427.3 L662.1,427.5 L663.4,428.1 L664.7,428.4 L665.9,428.6 L667.2,427.5 L668.5,428.6 L669.7,428.8 L671.0,428.5 L672.3,429.1 L673.5,429.0 L674.8,430.8 L676.1,429.0 L677.4,429.3 L678.6,429.0 L679.9,428.8 L681.2,430.8 L682.4,427.5 L683.7,428.9 L685.0,429.2 L686.2,431.1 L687.5,429.4 L688.8,429.3 L690.0,430.0 L691.3,429.7 L692.6,428.7 L693.8,430.0 L695.1,430.9 L696.4,429.1 L697.6,429.7 L698.9,430.3 L700.2,428.3 L701.4,429.8 L702.7,430.5 L704.0,430.3 L705.2,430.9 L706.5,430.5 L707.8,430.5 L709.0,431.3 L710.3,431.2 L711.6,430.7 L712.8,430.6 L714.1,430.4 L715.4,430.3 L716.6,430.7 L717.9,430.7 L719.2,431.5 L720.4,431.6 L721.7,430.5 L723.0,433.0 L724.2,431.5 L725.5,428.7 L726.8,432.7 L728.0,430.5 L729.3,433.0 L730.6,431.7 L731.8,430.3 L733.1,430.2 L734.4,432.4 L735.6,433.2 L736.9,433.5 L738.2,431.7 L739.4,432.4 L740.7,432.2 L742.0,432.0 L743.2,431.8 L744.5,431.7 L745.8,432.1 L747.0,433.8 L748.3,431.4 L749.6,434.7 L750.8,431.8 L752.1,432.9 L753.4,432.8 L754.6,433.1 L755.9,433.1 L757.2,432.8 L758.4,433.0 L759.7,433.8 L761.0,432.2 L762.2,433.2 L763.5,431.7 L764.8,432.8 L766.0,433.5 L767.3,432.6 L768.6,432.1 L769.8,433.6 L771.1,433.4 L772.4,431.8 L773.6,433.7 L774.9,433.9 L776.2,433.1 L777.4,434.2 L778.7,435.6 L780.0,435.1 L781.2,433.2 L782.5,432.6 L783.8,432.6 L785.0,432.8 L786.3,434.3 L787.6,432.9 L788.8,432.2 L790.1,433.7 L791.4,432.6 L792.6,433.5 L793.9,433.2 L795.2,433.0 L796.4,434.7 L797.7,432.4 L799.0,434.0 L800.2,433.7 L801.5,433.9 L802.8,433.2 L804.0,433.0 L805.3,433.4 L806.6,432.2 L807.9,433.0 L809.1,433.8 L810.4,436.2 L811.7,434.4 L812.9,434.0 L814.2,434.5 L815.5,434.5 L816.7,433.3 L818.0,432.6 L819.3,431.7 L820.5,432.2 L821.8,434.0 L823.1,433.5 L824.3,434.9 L825.6,433.3 L826.9,433.3 L828.1,434.2 L829.4,433.9 L830.7,434.0 L831.9,434.3 L833.2,432.7 L834.5,430.7 L835.7,432.4 L837.0,432.5 L838.3,433.4 L839.5,434.0 L840.8,431.8 L842.1,433.7 L843.3,433.4 L844.6,433.8 L845.9,433.2 L847.1,433.7 L848.4,433.2 L849.7,434.8 L850.9,434.1 L852.2,432.6 L853.5,434.5 L854.7,434.5 L856.0,432.7 L857.3,433.2 L858.5,432.7 L859.8,435.6 L861.1,434.0 L862.3,435.0 L863.6,435.3 L864.9,433.7 L866.1,432.7 L867.4,434.9"/>
<path d="M156.6,441.0 L157.9,440.0 L159.1,438.4 L160.4,440.2 L161.7,439.6 L162.9,439.7 L164.2,439.2 L165.5,438.8 L166.7,438.0 L168.0,438.9 L169.3,441.0 L170.6,441.0 L171.8,440.8 L173.1,441.0 L174.4,441.0 L175.6,440.8 L176.9,441.0 L178.2,440.2 L179.4,438.9 L180.7,437.8 L182.0,438.0 L183.2,440.3 L184.5,441.0 L185.8,441.0 L187.0,440.6 L188.3,441.0 L189.6,441.0 L190.8,441.0 L192.1,440.7 L193.4,440.2 L194.6,440.8 L195.9,440.2 L197.2,440.8 L198.4,440.3 L199.7,440.6 L201.0,439.3 L202.2,440.2 L203.5,441.0 L204.8,440.7 L206.0,441.0 L207.3,440.7 L208.6,440.4 L209.8,439.5 L211.1,439.5 L212.4,439.6 L213.6,439.3 L214.9,439.7 L216.2,439.9 L217.4,439.6 L218.7,440.0 L220.0,438.2 L221.2,437.2 L222.5,438.5 L223.8,440.1 L225.0,441.0 L226.3,441.0 L227.6,441.0 L228.8,441.0 L230.1,437.3 L231.4,433.8 L232.6,441.0 L233.9,439.7 L235.2,442.0 L236.4,442.0 L237.7,442.0 L239.0,442.0 L240.2,442.0 L241.5,442.0 L242.8,437.7 L244.0,436.5 L245.3,435.7 L246.6,436.2 L247.8,435.6 L249.1,434.5 L250.4,433.6 L251.6,432.4 L252.9,431.0 L254.2,430.3 L255.4,428.8 L256.7,430.1 L258.0,428.4 L259.2,427.5 L260.5,425.6 L261.8,426.3 L263.0,425.5 L264.3,425.8 L265.6,424.3 L266.8,423.6 L268.1,423.9 L269.4,423.3 L270.6,422.4 L271.9,421.2 L273.2,422.1 L274.4,420.0 L275.7,420.3 L277.0,417.9 L278.2,417.5 L279.5,418.7 L280.8,418.7 L282.0,415.6 L283.3,416.2 L284.6,416.1 L285.8,416.6 L287.1,416.1 L288.4,414.8 L289.6,414.4 L290.9,415.3 L292.2,413.3 L293.4,413.4 L294.7,414.2 L296.0,412.4 L297.2,412.7 L298.5,411.7 L299.8,412.4 L301.1,411.4 L302.3,412.7 L303.6,410.9 L304.9,412.0 L306.1,410.5 L307.4,412.3 L308.7,410.2 L309.9,408.9 L311.2,408.6 L312.5,407.6 L313.7,409.3 L315.0,407.0 L316.3,406.3 L317.5,408.5 L318.8,408.4 L320.1,407.9 L321.3,407.2 L322.6,406.6 L323.9,408.7 L325.1,406.2 L326.4,406.3 L327.7,406.8 L328.9,405.0 L330.2,405.6 L331.5,404.3 L332.7,404.4 L334.0,405.0 L335.3,403.7 L336.5,403.6 L337.8,404.6 L339.1,405.7 L340.3,404.8 L341.6,403.4 L342.9,403.8 L344.1,402.0 L345.4,402.8 L346.7,403.0 L347.9,402.7 L349.2,403.7 L350.5,403.1 L351.7,403.4 L353.0,404.9 L354.3,404.6 L355.5,402.1 L356.8,402.6 L358.1,402.3 L359.3,403.4 L360.6,402.8 L361.9,401.3 L363.1,401.6 L364.4,402.1 L365.7,400.3 L366.9,401.3 L368.2,401.7 L369.5,400.4 L370.7,402.7 L372.0,401.0 L373.3,402.1 L374.5,402.0 L375.8,401.8 L377.1,401.0 L378.3,400.8 L379.6,400.6 L380.9,400.6 L382.1,399.4 L383.4,398.9 L384.7,399.7 L385.9,399.7 L387.2,400.7 L388.5,401.6 L389.7,400.2 L391.0,400.4 L392.3,399.6 L393.5,401.8 L394.8,398.1 L396.1,400.8 L397.3,400.1 L398.6,399.0 L399.9,400.9 L401.1,400.4 L402.4,401.6 L403.7,401.2 L404.9,401.5 L406.2,399.6 L407.5,399.0 L408.7,399.4 L410.0,398.0 L411.3,397.5 L412.5,398.6 L413.8,398.9 L415.1,399.0 L416.3,399.1 L417.6,397.5 L418.9,398.1 L420.1,398.6 L421.4,398.6 L422.7,397.8 L423.9,398.5 L425.2,397.9 L426.5,398.0 L427.8,396.8 L429.0,396.6 L430.3,398.9 L431.6,398.1 L432.8,397.2 L434.1,398.0 L435.4,396.9 L436.6,397.1 L437.9,396.9 L439.2,397.4 L440.4,397.1 L441.7,396.8 L443.0,398.5 L444.2,398.3 L445.5,398.3 L446.8,395.8 L448.0,396.5 L449.3,396.6 L450.6,396.7 L451.8,397.3 L453.1,397.6 L454.4,396.2 L455.6,397.0 L456.9,395.4 L458.2,396.2 L459.4,396.5 L460.7,396.8 L462.0,393.3 L463.2,393.7 L464.5,395.6 L465.8,395.9 L467.0,400.1 L468.3,400.7 L469.6,400.7 L470.8,402.7 L472.1,403.3 L473.4,403.7 L474.6,406.0 L475.9,404.2 L477.2,404.9 L478.4,405.6 L479.7,406.0 L481.0,406.3 L482.2,405.0 L483.5,407.0 L484.8,407.2 L486.0,408.9 L487.3,408.9 L488.6,409.9 L489.8,410.3 L491.1,411.5 L492.4,412.0 L493.6,411.4 L494.9,411.3 L496.2,412.0 L497.4,413.5 L498.7,413.3 L500.0,416.2 L501.2,414.0 L502.5,414.8 L503.8,415.0 L505.0,414.6 L506.3,416.3 L507.6,415.8 L508.8,417.2 L510.1,416.8 L511.4,417.9 L512.6,417.7 L513.9,416.9 L515.2,418.9 L516.4,419.5 L517.7,419.6 L519.0,419.3 L520.2,417.3 L521.5,420.1 L522.8,422.2 L524.0,421.6 L525.3,422.6 L526.6,422.1 L527.8,421.7 L529.1,422.7 L530.4,422.9 L531.6,424.2 L532.9,422.9 L534.2,423.6 L535.4,422.4 L536.7,422.3 L538.0,424.3 L539.2,424.4 L540.5,424.3 L541.8,423.8 L543.0,426.1 L544.3,425.3 L545.6,423.6 L546.8,425.2 L548.1,425.5 L549.4,425.9 L550.6,427.2 L551.9,425.7 L553.2,426.1 L554.5,426.4 L555.7,426.1 L557.0,426.1 L558.3,428.7 L559.5,427.2 L560.8,428.0 L562.1,427.6 L563.3,428.4 L564.6,428.8 L565.9,427.4 L567.1,428.1 L568.4,428.6 L569.7,428.8 L570.9,428.6 L572.2,428.8 L573.5,431.0 L574.7,430.3 L576.0,429.6 L577.3,428.7 L578.5,428.1 L579.8,430.1 L581.1,428.1 L582.3,429.4 L583.6,429.4 L584.9,430.4 L586.1,430.8 L587.4,429.1 L588.7,430.4 L589.9,430.6 L591.2,429.6 L592.5,429.0 L593.7,431.9 L595.0,431.3 L596.3,431.2 L597.5,429.6 L598.8,428.7 L600.1,430.9 L601.3,431.0 L602.6,430.6 L603.9,430.3 L605.1,431.7 L606.4,430.9 L607.7,432.2 L608.9,434.3 L610.2,433.6 L611.5,432.0 L612.7,431.2 L614.0,433.8 L615.3,434.0 L616.5,432.5 L617.8,435.2 L619.1,432.2 L620.3,431.2 L621.6,434.7 L622.9,432.0 L624.1,432.4 L625.4,431.0 L626.7,431.8 L627.9,432.5 L629.2,432.3 L630.5,431.6 L631.7,432.1 L633.0,432.4 L634.3,433.8 L635.5,432.3 L636.8,432.5 L638.1,430.9 L639.3,432.3 L640.6,432.6 L641.9,433.2 L643.1,432.1 L644.4,432.8 L645.7,433.3 L646.9,431.4 L648.2,430.9 L649.5,432.8 L650.7,433.7 L652.0,432.0 L653.3,433.5 L654.5,430.5 L655.8,432.6 L657.1,432.1 L658.3,434.0 L659.6,433.3 L660.9,432.2 L662.1,432.6 L663.4,433.6 L664.7,431.2 L665.9,432.2 L667.2,433.4 L668.5,434.0 L669.7,433.8 L671.0,432.4 L672.3,434.0 L673.5,433.7 L674.8,434.4 L676.1,432.7 L677.4,433.7 L678.6,433.0 L679.9,433.1 L681.2,434.2 L682.4,433.3 L683.7,432.9 L685.0,434.8 L686.2,433.5 L687.5,430.7 L688.8,433.6 L690.0,433.4 L691.3,435.2 L692.6,433.9 L693.8,434.6 L695.1,433.6 L696.4,434.1 L697.6,435.3 L698.9,433.5 L700.2,434.3 L701.4,435.2 L702.7,434.5 L704.0,435.3 L705.2,434.2 L706.5,434.4 L707.8,434.8 L709.0,433.9 L710.3,435.5 L711.6,433.8 L712.8,436.2 L714.1,433.4 L715.4,434.2 L716.6,434.8 L717.9,435.3 L719.2,434.3 L720.4,434.7 L721.7,434.9 L723.0,433.8 L724.2,434.9 L725.5,435.0 L726.8,434.4 L728.0,433.7 L729.3,434.7 L730.6,434.6 L731.8,434.7 L733.1,434.1 L734.4,433.4 L735.6,435.4 L736.9,435.1 L738.2,435.0 L739.4,434.4 L740.7,433.5 L742.0,434.7 L743.2,434.7 L744.5,433.9 L745.8,435.9 L747.0,435.9 L748.3,435.6 L749.6,435.1 L750.8,434.8 L752.1,435.5 L753.4,433.5 L754.6,435.4 L755.9,435.3 L757.2,434.1 L758.4,434.2 L759.7,434.9 L761.0,434.7 L762.2,434.3 L763.5,435.0 L764.8,434.5 L766.0,435.8 L767.3,435.2 L768.6,436.7 L769.8,436.3 L771.1,436.4 L772.4,434.3 L773.6,435.4 L774.9,435.0 L776.2,436.0 L777.4,435.5 L778.7,435.5 L780.0,436.0 L781.2,434.6 L782.5,436.6 L783.8,434.9 L785.0,432.7 L786.3,435.5 L787.6,435.3 L788.8,436.7 L790.1,435.6 L791.4,436.9 L792.6,435.0 L793.9,435.7 L795.2,437.0 L796.4,436.8 L797.7,437.0 L799.0,435.9 L800.2,434.6 L801.5,435.5 L802.8,436.4 L804.0,436.3 L805.3,435.4 L806.6,437.5 L807.9,435.2 L809.1,434.9 L810.4,437.5 L811.7,434.7 L812.9,436.7 L814.2,435.8 L815.5,434.3 L816.7,436.6 L818.0,437.3 L819.3,436.7 L820.5,436.6 L821.8,435.7 L823.1,435.9 L824.3,435.9 L825.6,435.9 L826.9,435.6 L828.1,436.2 L829.4,435.2 L830.7,435.3 L831.9,436.2 L833.2,433.8 L834.5,436.2 L835.7,434.8 L837.0,435.9 L838.3,435.1 L839.5,434.8 L840.8,434.4 L842.1,433.8 L843.3,435.7 L844.6,432.7 L845.9,434.4 L847.1,435.8 L848.4,436.6 L849.7,433.4 L850.9,433.3 L852.2,434.9 L853.5,434.4 L854.7,433.8 L856.0,434.8 L857.3,435.5 L858.5,435.3 L859.8,434.4 L861.1,435.0 L862.3,436.2 L863.6,434.7 L864.9,436.6 L866.1,436.1 L867.4,434.2"/>
</g>
<path d="M96.7,441.0 H868.5 M233.9,441.0 V451.3" stroke="#000" stroke-width="2.4" fill="none"/>
<rect x="237.2" y="439.6" width="5.2" height="2.9" fill="#e4e4e4"/>
<g fill="none" stroke="#000" stroke-width="3.3" stroke-linejoin="miter" stroke-linecap="butt">
<path d="M234.7,441.9 L235.0,432.5 L235.9,434.4 L237.4,424.8 L240.0,409.4 L242.5,395.0 L245.0,381.3 L247.6,368.4 L250.1,356.3 L252.7,344.8 L255.2,334.0 L257.7,323.8 L260.3,314.2 L262.8,305.1 L265.3,296.5 L267.9,288.4 L270.4,280.7 L272.9,273.5 L275.5,266.7 L278.0,260.3 L280.5,254.2 L283.1,248.5 L285.6,243.1 L288.1,238.0 L290.7,233.2 L293.2,228.7 L295.7,224.4 L298.3,220.4 L300.8,216.6 L303.3,213.0 L305.9,209.6 L308.4,206.4 L310.9,203.4 L313.5,200.5 L316.0,197.8 L318.5,195.3 L321.1,192.9 L323.6,190.6 L326.1,188.5 L328.7,186.5 L331.2,184.6 L333.7,182.8 L336.3,181.1 L338.8,179.5 L341.3,178.0 L343.9,176.6 L346.4,175.2 L348.9,174.0 L351.5,172.8 L354.0,171.6 L356.5,170.6 L359.1,169.6 L361.6,168.6 L364.1,167.7 L366.7,166.9 L369.2,166.1 L371.7,165.4 L374.3,164.6 L376.8,164.0 L379.4,163.3 L381.9,162.7 L384.4,162.2 L387.0,161.7 L389.5,161.2 L392.0,160.7 L394.6,160.2 L397.1,159.8 L399.6,159.4 L402.2,159.0 L404.7,158.7 L407.2,158.4 L409.8,158.0 L412.3,157.7 L414.8,157.5 L417.4,157.2 L419.9,157.0 L422.4,156.7 L425.0,156.5 L427.5,156.3 L430.0,156.1 L432.6,155.9 L435.1,155.7 L437.6,155.6 L440.2,155.4 L442.7,155.3 L445.2,155.1 L447.8,155.0 L450.3,154.9 L452.8,154.7 L455.4,154.6 L457.9,154.5 L460.4,154.4 L460.9,154.3 L460.9,154.3 L462.8,145.5 L464.5,152.4 L467.0,159.0 L469.6,165.5 L472.1,171.9 L474.6,178.1 L477.2,184.2 L479.7,190.2 L482.2,196.0 L484.8,201.6 L487.3,207.2 L489.8,212.6 L492.4,217.9 L494.9,223.0 L497.4,228.1 L500.0,233.0 L502.5,237.8 L505.0,242.5 L507.6,247.1 L510.1,251.6 L512.6,256.0 L515.2,260.2 L517.7,264.4 L520.2,268.5 L522.8,272.5 L525.3,276.4 L527.8,280.2 L530.4,283.9 L532.9,287.5 L535.4,291.1 L538.0,294.6 L540.5,297.9 L543.0,301.3 L545.6,304.5 L548.1,307.6 L550.6,310.7 L553.2,313.7 L555.7,316.7 L558.3,319.6 L560.8,322.4 L563.3,325.1 L565.9,327.8 L568.4,330.4 L570.9,333.0 L573.5,335.5 L576.0,337.9 L578.5,340.3 L581.1,342.6 L583.6,344.9 L586.1,347.1 L588.7,349.3 L591.2,351.4 L593.7,353.5 L596.3,355.5 L598.8,357.5 L601.3,359.4 L603.9,361.3 L606.4,363.1 L608.9,364.9 L611.5,366.7 L614.0,368.4 L616.5,370.1 L619.1,371.7 L621.6,373.3 L624.1,374.9 L626.7,376.4 L629.2,377.9 L631.7,379.4 L634.3,380.8 L636.8,382.2 L639.3,383.6 L641.9,384.9 L644.4,386.2 L646.9,387.5 L649.5,388.7 L652.0,389.9 L654.5,391.1 L657.1,392.2 L659.6,393.4 L662.1,394.5 L664.7,395.5 L667.2,396.6 L669.7,397.6 L672.3,398.6 L674.8,399.6 L677.4,400.6 L679.9,401.5 L682.4,402.4 L685.0,403.3 L687.5,404.2 L690.0,405.0 L692.6,405.9 L695.1,406.7 L697.6,407.5 L700.2,408.2 L702.7,409.0 L705.2,409.7 L707.8,410.5 L710.3,411.2 L712.8,411.9 L715.4,412.5 L717.9,413.2 L720.4,413.8 L723.0,414.5 L725.5,415.1 L728.0,415.7 L730.6,416.3 L733.1,416.8 L735.6,417.4 L738.2,417.9 L740.7,418.5 L743.2,419.0 L745.8,419.5 L748.3,420.0 L750.8,420.5 L753.4,421.0 L755.9,421.4 L758.4,421.9 L761.0,422.3 L763.5,422.8 L766.0,423.2 L768.6,423.6 L771.1,424.0 L773.6,424.4 L776.2,424.8 L778.7,425.1 L781.2,425.5 L783.8,425.9 L786.3,426.2 L788.8,426.6 L791.4,426.9 L793.9,427.2 L796.4,427.5 L799.0,427.9 L801.5,428.2 L804.0,428.5 L806.6,428.7 L809.1,429.0 L811.7,429.3 L814.2,429.6 L816.7,429.8 L819.3,430.1 L821.8,430.3 L824.3,430.6 L826.9,430.8 L829.4,431.1 L831.9,431.3 L834.5,431.5 L837.0,431.7 L839.5,432.0 L842.1,432.2 L844.6,432.4 L847.1,432.6 L849.7,432.8 L852.2,433.0 L854.7,433.1 L857.3,433.3 L859.8,433.5 L862.3,433.7 L864.9,433.8 L867.4,434.0 L868.2,434.1"/>
<path d="M234.7,441.9 L235.0,432.5 L235.9,437.2 L237.4,431.7 L240.0,422.8 L242.5,414.2 L245.0,406.0 L247.6,398.2 L250.1,390.7 L252.7,383.6 L255.2,376.7 L257.7,370.2 L260.3,363.9 L262.8,357.9 L265.3,352.2 L267.9,346.7 L270.4,341.4 L272.9,336.4 L275.5,331.5 L278.0,326.9 L280.5,322.5 L283.1,318.3 L285.6,314.3 L288.1,310.4 L290.7,306.7 L293.2,303.1 L295.7,299.8 L298.3,296.5 L300.8,293.4 L303.3,290.4 L305.9,287.6 L308.4,284.9 L310.9,282.3 L313.5,279.8 L316.0,277.4 L318.5,275.1 L321.1,272.9 L323.6,270.9 L326.1,268.9 L328.7,266.9 L331.2,265.1 L333.7,263.4 L336.3,261.7 L338.8,260.1 L341.3,258.5 L343.9,257.1 L346.4,255.7 L348.9,254.3 L351.5,253.0 L354.0,251.8 L356.5,250.6 L359.1,249.5 L361.6,248.4 L364.1,247.4 L366.7,246.4 L369.2,245.5 L371.7,244.6 L374.3,243.7 L376.8,242.9 L379.4,242.1 L381.9,241.3 L384.4,240.6 L387.0,239.9 L389.5,239.2 L392.0,238.6 L394.6,238.0 L397.1,237.4 L399.6,236.8 L402.2,236.3 L404.7,235.8 L407.2,235.3 L409.8,234.8 L412.3,234.4 L414.8,234.0 L417.4,233.5 L419.9,233.1 L422.4,232.8 L425.0,232.4 L427.5,232.1 L430.0,231.7 L432.6,231.4 L435.1,231.1 L437.6,230.8 L440.2,230.6 L442.7,230.3 L445.2,230.0 L447.8,229.8 L450.3,229.6 L452.8,229.3 L455.4,229.1 L457.9,228.9 L460.4,228.7 L460.9,228.6 L460.9,228.6 L462.8,228.4 L464.5,233.5 L467.0,238.5 L469.6,243.4 L472.1,248.2 L474.6,252.8 L477.2,257.4 L479.7,261.8 L482.2,266.1 L484.8,270.3 L487.3,274.4 L489.8,278.5 L492.4,282.4 L494.9,286.2 L497.4,289.9 L500.0,293.5 L502.5,297.1 L505.0,300.5 L507.6,303.9 L510.1,307.1 L512.6,310.3 L515.2,313.5 L517.7,316.5 L520.2,319.5 L522.8,322.4 L525.3,325.2 L527.8,327.9 L530.4,330.6 L532.9,333.3 L535.4,335.8 L538.0,338.3 L540.5,340.7 L543.0,343.1 L545.6,345.4 L548.1,347.7 L550.6,349.9 L553.2,352.0 L555.7,354.1 L558.3,356.1 L560.8,358.1 L563.3,360.1 L565.9,362.0 L568.4,363.8 L570.9,365.6 L573.5,367.4 L576.0,369.1 L578.5,370.8 L581.1,372.4 L583.6,374.0 L586.1,375.5 L588.7,377.0 L591.2,378.5 L593.7,379.9 L596.3,381.3 L598.8,382.7 L601.3,384.0 L603.9,385.3 L606.4,386.6 L608.9,387.9 L611.5,389.1 L614.0,390.2 L616.5,391.4 L619.1,392.5 L621.6,393.6 L624.1,394.7 L626.7,395.7 L629.2,396.7 L631.7,397.7 L634.3,398.7 L636.8,399.6 L639.3,400.5 L641.9,401.4 L644.4,402.3 L646.9,403.1 L649.5,404.0 L652.0,404.8 L654.5,405.6 L657.1,406.3 L659.6,407.1 L662.1,407.8 L664.7,408.5 L667.2,409.2 L669.7,409.9 L672.3,410.6 L674.8,411.2 L677.4,411.8 L679.9,412.5 L682.4,413.1 L685.0,413.6 L687.5,414.2 L690.0,414.8 L692.6,415.3 L695.1,415.8 L697.6,416.4 L700.2,416.9 L702.7,417.3 L705.2,417.8 L707.8,418.3 L710.3,418.7 L712.8,419.2 L715.4,419.6 L717.9,420.0 L720.4,420.5 L723.0,420.9 L725.5,421.3 L728.0,421.6 L730.6,422.0 L733.1,422.4 L735.6,422.7 L738.2,423.1 L740.7,423.4 L743.2,423.7 L745.8,424.1 L748.3,424.4 L750.8,424.7 L753.4,425.0 L755.9,425.3 L758.4,425.5 L761.0,425.8 L763.5,426.1 L766.0,426.4 L768.6,426.6 L771.1,426.9 L773.6,427.1 L776.2,427.3 L778.7,427.6 L781.2,427.8 L783.8,428.0 L786.3,428.2 L788.8,428.4 L791.4,428.7 L793.9,428.8 L796.4,429.0 L799.0,429.2 L801.5,429.4 L804.0,429.6 L806.6,429.8 L809.1,429.9 L811.7,430.1 L814.2,430.3 L816.7,430.4 L819.3,430.6 L821.8,430.7 L824.3,430.9 L826.9,431.0 L829.4,431.2 L831.9,431.3 L834.5,431.4 L837.0,431.6 L839.5,431.7 L842.1,431.8 L844.6,432.0 L847.1,432.1 L849.7,432.2 L852.2,432.3 L854.7,432.4 L857.3,432.5 L859.8,432.6 L862.3,432.7 L864.9,432.8 L867.4,432.9 L868.2,432.9"/>
<path d="M244.2,418.5 L245.9,415.6 L248.5,411.5 L251.0,407.6 L253.5,403.8 L256.1,400.2 L258.6,396.6 L261.1,393.2 L263.7,389.9 L266.2,386.7 L268.7,383.7 L271.3,380.7 L273.8,377.9 L276.3,375.1 L278.9,372.4 L281.4,369.8 L283.9,367.4 L286.5,365.0 L289.0,362.6 L291.5,360.4 L294.1,358.2 L296.6,356.1 L299.2,354.1 L301.7,352.2 L304.2,350.3 L306.8,348.5 L309.3,346.7 L311.8,345.0 L314.4,343.4 L316.9,341.8 L319.4,340.3 L322.0,338.8 L324.5,337.4 L327.0,336.0 L329.6,334.7 L332.1,333.4 L334.6,332.2 L337.2,331.0 L339.7,329.9 L342.2,328.7 L344.8,327.7 L347.3,326.6 L349.8,325.6 L352.4,324.7 L354.9,323.7 L357.4,322.8 L360.0,322.0 L362.5,321.1 L365.0,320.3 L367.6,319.5 L370.1,318.8 L372.6,318.0 L375.2,317.3 L377.7,316.7 L380.2,316.0 L382.8,315.4 L385.3,314.7 L387.8,314.2 L390.4,313.6 L392.9,313.0 L395.4,312.5 L398.0,312.0 L400.5,311.5 L403.0,311.0 L405.6,310.5 L408.1,310.1 L410.6,309.7 L413.2,309.2 L415.7,308.8 L418.2,308.5 L420.8,308.1 L423.3,307.7 L425.9,307.4 L428.4,307.0 L430.9,306.7 L433.5,306.4 L436.0,306.1 L438.5,305.8 L441.1,305.5 L443.6,305.2 L446.1,305.0 L448.7,304.7 L451.2,304.5 L453.7,304.2 L456.3,304.0 L458.8,303.8 L460.9,303.6 L460.9,303.3 L460.9,303.3 L462.8,312.0 L464.5,315.0 L467.0,317.9 L469.6,320.7 L472.1,323.5 L474.6,326.2 L477.2,328.8 L479.7,331.4 L482.2,333.9 L484.8,336.3 L487.3,338.7 L489.8,341.1 L492.4,343.4 L494.9,345.6 L497.4,347.8 L500.0,349.9 L502.5,352.0 L505.0,354.1 L507.6,356.1 L510.1,358.0 L512.6,359.9 L515.2,361.8 L517.7,363.6 L520.2,365.4 L522.8,367.1 L525.3,368.8 L527.8,370.5 L530.4,372.1 L532.9,373.7 L535.4,375.2 L538.0,376.7 L540.5,378.2 L543.0,379.6 L545.6,381.0 L548.1,382.4 L550.6,383.7 L553.2,385.1 L555.7,386.3 L558.3,387.6 L560.8,388.8 L563.3,390.0 L565.9,391.2 L568.4,392.3 L570.9,393.4 L573.5,394.5 L576.0,395.6 L578.5,396.6 L581.1,397.7 L583.6,398.7 L586.1,399.6 L588.7,400.6 L591.2,401.5 L593.7,402.4 L596.3,403.3 L598.8,404.2 L601.3,405.0 L603.9,405.8 L606.4,406.6 L608.9,407.4 L611.5,408.2 L614.0,408.9 L616.5,409.7 L619.1,410.4 L621.6,411.1 L624.1,411.8 L626.7,412.5 L629.2,413.1 L631.7,413.7 L634.3,414.4 L636.8,415.0 L639.3,415.6 L641.9,416.2 L644.4,416.7 L646.9,417.3 L649.5,417.8 L652.0,418.4 L654.5,418.9 L657.1,419.4 L659.6,419.9 L662.1,420.4 L664.7,420.8 L667.2,421.3 L669.7,421.8 L672.3,422.2 L674.8,422.6 L677.4,423.1 L679.9,423.5 L682.4,423.9 L685.0,424.3 L687.5,424.6 L690.0,425.0 L692.6,425.4 L695.1,425.7 L697.6,426.1 L700.2,426.4 L702.7,426.8 L705.2,427.1 L707.8,427.4 L710.3,427.7 L712.8,428.0 L715.4,428.3 L717.9,428.6 L720.4,428.9 L723.0,429.2 L725.5,429.5 L728.0,429.7 L730.6,430.0 L733.1,430.2 L735.6,430.5 L738.2,430.7 L740.7,431.0 L743.2,431.2 L745.8,431.4 L748.3,431.6 L750.8,431.8 L753.4,432.1 L755.9,432.3 L758.4,432.5 L761.0,432.7 L763.5,432.8 L766.0,433.0 L768.6,433.2 L771.1,433.4 L773.6,433.6 L776.2,433.7 L778.7,433.9 L781.2,434.1 L783.8,434.2 L786.3,434.4 L788.8,434.5 L791.4,434.7 L793.9,434.8 L796.4,435.0 L799.0,435.1 L801.5,435.2 L804.0,435.4 L806.6,435.5 L809.1,435.6 L811.7,435.8 L814.2,435.9 L816.7,436.0 L819.3,436.1 L821.8,436.2 L824.3,436.3 L826.9,436.4 L829.4,436.5 L831.9,436.6 L834.5,436.7 L837.0,436.8 L839.5,436.9 L842.1,437.0 L844.6,437.1 L847.1,437.2 L849.7,437.3 L852.2,437.4 L854.7,437.5 L857.3,437.5 L859.8,437.6 L862.3,437.7 L864.9,437.8 L867.4,437.8 L868.2,437.9"/>
<path d="M245.4,426.0 L246.6,424.9 L249.1,422.6 L251.6,420.4 L254.2,418.3 L256.7,416.2 L259.2,414.2 L261.8,412.3 L264.3,410.4 L266.8,408.6 L269.4,406.9 L271.9,405.2 L274.4,403.5 L277.0,402.0 L279.5,400.4 L282.0,399.0 L284.6,397.6 L287.1,396.2 L289.6,394.9 L292.2,393.6 L294.7,392.3 L297.2,391.1 L299.8,390.0 L302.3,388.9 L304.9,387.8 L307.4,386.7 L309.9,385.7 L312.5,384.7 L315.0,383.8 L317.5,382.9 L320.1,382.0 L322.6,381.1 L325.1,380.3 L327.7,379.5 L330.2,378.7 L332.7,378.0 L335.3,377.3 L337.8,376.6 L340.3,375.9 L342.9,375.3 L345.4,374.6 L347.9,374.0 L350.5,373.4 L353.0,372.9 L355.5,372.3 L358.1,371.8 L360.6,371.3 L363.1,370.8 L365.7,370.3 L368.2,369.8 L370.7,369.4 L373.3,369.0 L375.8,368.5 L378.3,368.1 L380.9,367.7 L383.4,367.4 L385.9,367.0 L388.5,366.7 L391.0,366.3 L393.5,366.0 L396.1,365.7 L398.6,365.4 L401.1,365.1 L403.7,364.8 L406.2,364.5 L408.7,364.2 L411.3,364.0 L413.8,363.7 L416.3,363.5 L418.9,363.2 L421.4,363.0 L423.9,362.8 L426.5,362.6 L429.0,362.4 L431.6,362.2 L434.1,362.0 L436.6,361.8 L439.2,361.6 L441.7,361.4 L444.2,361.3 L446.8,361.1 L449.3,361.0 L451.8,360.8 L454.4,360.7 L456.9,360.5 L459.4,360.4 L460.9,360.3 L460.9,360.3 L462.8,369.7 L464.5,371.3 L467.0,372.9 L469.6,374.5 L472.1,376.0 L474.6,377.5 L477.2,378.9 L479.7,380.4 L482.2,381.7 L484.8,383.1 L487.3,384.4 L489.8,385.7 L492.4,387.0 L494.9,388.2 L497.4,389.4 L500.0,390.6 L502.5,391.7 L505.0,392.8 L507.6,393.9 L510.1,395.0 L512.6,396.0 L515.2,397.1 L517.7,398.1 L520.2,399.0 L522.8,400.0 L525.3,400.9 L527.8,401.8 L530.4,402.7 L532.9,403.6 L535.4,404.4 L538.0,405.2 L540.5,406.0 L543.0,406.8 L545.6,407.6 L548.1,408.3 L550.6,409.1 L553.2,409.8 L555.7,410.5 L558.3,411.2 L560.8,411.8 L563.3,412.5 L565.9,413.1 L568.4,413.7 L570.9,414.3 L573.5,414.9 L576.0,415.5 L578.5,416.1 L581.1,416.6 L583.6,417.2 L586.1,417.7 L588.7,418.2 L591.2,418.7 L593.7,419.2 L596.3,419.7 L598.8,420.1 L601.3,420.6 L603.9,421.0 L606.4,421.5 L608.9,421.9 L611.5,422.3 L614.0,422.7 L616.5,423.1 L619.1,423.5 L621.6,423.9 L624.1,424.3 L626.7,424.6 L629.2,425.0 L631.7,425.3 L634.3,425.6 L636.8,426.0 L639.3,426.3 L641.9,426.6 L644.4,426.9 L646.9,427.2 L649.5,427.5 L652.0,427.8 L654.5,428.1 L657.1,428.3 L659.6,428.6 L662.1,428.9 L664.7,429.1 L667.2,429.4 L669.7,429.6 L672.3,429.8 L674.8,430.1 L677.4,430.3 L679.9,430.5 L682.4,430.7 L685.0,430.9 L687.5,431.1 L690.0,431.3 L692.6,431.5 L695.1,431.7 L697.6,431.9 L700.2,432.1 L702.7,432.3 L705.2,432.5 L707.8,432.6 L710.3,432.8 L712.8,432.9 L715.4,433.1 L717.9,433.3 L720.4,433.4 L723.0,433.6 L725.5,433.7 L728.0,433.8 L730.6,434.0 L733.1,434.1 L735.6,434.2 L738.2,434.4 L740.7,434.5 L743.2,434.6 L745.8,434.7 L748.3,434.9 L750.8,435.0 L753.4,435.1 L755.9,435.2 L758.4,435.3 L761.0,435.4 L763.5,435.5 L766.0,435.6 L768.6,435.7 L771.1,435.8 L773.6,435.9 L776.2,436.0 L778.7,436.1 L781.2,436.1 L783.8,436.2 L786.3,436.3 L788.8,436.4 L791.4,436.5 L793.9,436.5 L796.4,436.6 L799.0,436.7 L801.5,436.8 L804.0,436.8 L806.6,436.9 L809.1,437.0 L811.7,437.0 L814.2,437.1 L816.7,437.1 L819.3,437.2 L821.8,437.3 L824.3,437.3 L826.9,437.4 L829.4,437.4 L831.9,437.5 L834.5,437.5 L837.0,437.6 L839.5,437.6 L842.1,437.7 L844.6,437.7 L847.1,437.8 L849.7,437.8 L852.2,437.9 L854.7,437.9 L857.3,438.0 L859.8,438.0 L862.3,438.0 L864.9,438.1 L867.4,438.1 L868.2,438.1"/>
<path d="M246.8,432.6 L249.1,431.5 L251.6,430.4 L254.2,429.3 L256.7,428.2 L259.2,427.1 L261.8,426.1 L264.3,425.1 L266.8,424.2 L269.4,423.3 L271.9,422.4 L274.4,421.5 L277.0,420.7 L279.5,419.8 L282.0,419.1 L284.6,418.3 L287.1,417.6 L289.6,416.8 L292.2,416.2 L294.7,415.5 L297.2,414.8 L299.8,414.2 L302.3,413.6 L304.9,413.0 L307.4,412.4 L309.9,411.9 L312.5,411.4 L315.0,410.8 L317.5,410.3 L320.1,409.8 L322.6,409.4 L325.1,408.9 L327.7,408.5 L330.2,408.0 L332.7,407.6 L335.3,407.2 L337.8,406.8 L340.3,406.5 L342.9,406.1 L345.4,405.7 L347.9,405.4 L350.5,405.1 L353.0,404.8 L355.5,404.4 L358.1,404.1 L360.6,403.8 L363.1,403.6 L365.7,403.3 L368.2,403.0 L370.7,402.8 L373.3,402.5 L375.8,402.3 L378.3,402.1 L380.9,401.8 L383.4,401.6 L385.9,401.4 L388.5,401.2 L391.0,401.0 L393.5,400.8 L396.1,400.6 L398.6,400.4 L401.1,400.3 L403.7,400.1 L406.2,399.9 L408.7,399.8 L411.3,399.6 L413.8,399.5 L416.3,399.3 L418.9,399.2 L421.4,399.0 L423.9,398.9 L426.5,398.8 L429.0,398.7 L431.6,398.5 L434.1,398.4 L436.6,398.3 L439.2,398.2 L441.7,398.1 L444.2,398.0 L446.8,397.9 L449.3,397.8 L451.8,397.7 L454.4,397.6 L456.9,397.5 L459.4,397.5 L460.9,397.4 L460.9,397.4 L462.8,403.8 L464.5,404.6 L467.0,405.5 L469.6,406.3 L472.1,407.1 L474.6,407.9 L477.2,408.7 L479.7,409.5 L482.2,410.2 L484.8,410.9 L487.3,411.6 L489.8,412.3 L492.4,413.0 L494.9,413.6 L497.4,414.3 L500.0,414.9 L502.5,415.5 L505.0,416.1 L507.6,416.6 L510.1,417.2 L512.6,417.7 L515.2,418.3 L517.7,418.8 L520.2,419.3 L522.8,419.8 L525.3,420.3 L527.8,420.7 L530.4,421.2 L532.9,421.7 L535.4,422.1 L538.0,422.5 L540.5,422.9 L543.0,423.3 L545.6,423.7 L548.1,424.1 L550.6,424.5 L553.2,424.8 L555.7,425.2 L558.3,425.6 L560.8,425.9 L563.3,426.2 L565.9,426.5 L568.4,426.9 L570.9,427.2 L573.5,427.5 L576.0,427.8 L578.5,428.0 L581.1,428.3 L583.6,428.6 L586.1,428.9 L588.7,429.1 L591.2,429.4 L593.7,429.6 L596.3,429.8 L598.8,430.1 L601.3,430.3 L603.9,430.5 L606.4,430.7 L608.9,431.0 L611.5,431.2 L614.0,431.4 L616.5,431.6 L619.1,431.8 L621.6,431.9 L624.1,432.1 L626.7,432.3 L629.2,432.5 L631.7,432.6 L634.3,432.8 L636.8,433.0 L639.3,433.1 L641.9,433.3 L644.4,433.4 L646.9,433.6 L649.5,433.7 L652.0,433.8 L654.5,434.0 L657.1,434.1 L659.6,434.2 L662.1,434.4 L664.7,434.5 L667.2,434.6 L669.7,434.7 L672.3,434.8 L674.8,434.9 L677.4,435.0 L679.9,435.2 L682.4,435.3 L685.0,435.4 L687.5,435.5 L690.0,435.5 L692.6,435.6 L695.1,435.7 L697.6,435.8 L700.2,435.9 L702.7,436.0 L705.2,436.1 L707.8,436.1 L710.3,436.2 L712.8,436.3 L715.4,436.4 L717.9,436.4 L720.4,436.5 L723.0,436.6 L725.5,436.7 L728.0,436.7 L730.6,436.8 L733.1,436.8 L735.6,436.9 L738.2,437.0 L740.7,437.0 L743.2,437.1 L745.8,437.1 L748.3,437.2 L750.8,437.2 L753.4,437.3 L755.9,437.3 L758.4,437.4 L761.0,437.4 L763.5,437.5 L766.0,437.5 L768.6,437.6 L771.1,437.6 L773.6,437.7 L776.2,437.7 L778.7,437.7 L781.2,437.8 L783.8,437.8 L786.3,437.8 L788.8,437.9 L791.4,437.9 L793.9,437.9 L796.4,438.0 L799.0,438.0 L801.5,438.0 L804.0,438.1 L806.6,438.1 L809.1,438.1 L811.7,438.2 L814.2,438.2 L816.7,438.2 L819.3,438.2 L821.8,438.3 L824.3,438.3 L826.9,438.3 L829.4,438.3 L831.9,438.4 L834.5,438.4 L837.0,438.4 L839.5,438.4 L842.1,438.5 L844.6,438.5 L847.1,438.5 L849.7,438.5 L852.2,438.5 L854.7,438.6 L857.3,438.6 L859.8,438.6 L862.3,438.6 L864.9,438.6 L867.4,438.6 L868.2,438.6"/>
</g>
<g font-family="'Liberation Sans', sans-serif" font-size="35px" fill="#000" stroke="#000" stroke-width="0.35">
<text transform="translate(78.2,452.0) scale(0.972,1)" text-anchor="end">0</text>
<text transform="translate(78.2,366.6) scale(0.972,1)" text-anchor="end">10</text>
<text transform="translate(78.2,281.2) scale(0.972,1)" text-anchor="end">20</text>
<text transform="translate(78.2,195.8) scale(0.972,1)" text-anchor="end">30</text>
<text transform="translate(78.2,110.4) scale(0.972,1)" text-anchor="end">40</text>
<text transform="translate(78.2,25.0) scale(0.972,1)" text-anchor="end">50</text>
<text transform="translate(107.2,492.6) scale(0.972,1)" text-anchor="middle">-100</text>
<text transform="translate(233.9,492.6) scale(0.972,1)" text-anchor="middle">0</text>
<text transform="translate(360.6,492.6) scale(0.972,1)" text-anchor="middle">100</text>
<text transform="translate(487.3,492.6) scale(0.972,1)" text-anchor="middle">200</text>
<text transform="translate(614.0,492.6) scale(0.972,1)" text-anchor="middle">300</text>
<text transform="translate(740.7,492.6) scale(0.972,1)" text-anchor="middle">400</text>
<text transform="translate(867.4,492.6) scale(0.972,1)" text-anchor="middle">500</text>
<text x="487.6" y="538.8" text-anchor="middle" font-size="34.7px">Time (s)</text>
<text transform="translate(25.4,227.6) rotate(-90) scale(0.95,1)" text-anchor="middle" font-size="35px">RU</text>
</g>
</svg></body></html>
